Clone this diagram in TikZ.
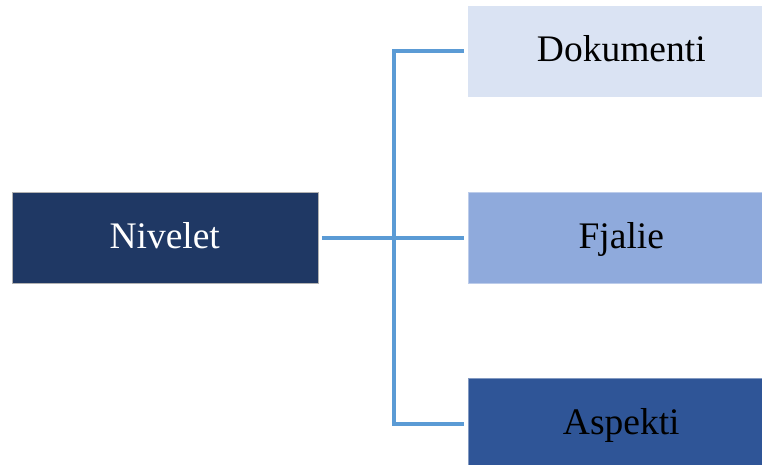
\documentclass[tikz,border=0pt]{standalone}
\usepackage{fontspec}
\setmainfont{Liberation Serif}
\definecolor{navy}{HTML}{1F3864}
\definecolor{paleblue}{HTML}{DAE3F3}
\definecolor{midblue}{HTML}{8FAADC}
\definecolor{deepblue}{HTML}{2F5597}
\definecolor{linkblue}{HTML}{5B9BD5}
\begin{document}
\begin{tikzpicture}[x=1pt,y=1pt,
  levelbox/.style={minimum width=306pt,minimum height=90.6pt,inner sep=0pt,
    text height=21pt,text depth=0pt,
    font=\fontsize{37.5}{40}\selectfont, draw=white!70!black, line width=0.4pt},
  link/.style={linkblue,line width=4pt}]
\useasboundingbox (0,0) rectangle (762,465);
\clip (0,0) rectangle (762,465);
% root and the three levels (right column runs past the page edge)
\node[levelbox,fill=navy,text=white] (root) at (164.7,227) {Nivelet};
\node[levelbox,fill=paleblue,draw=paleblue] (doc) at (621.3,413.6) {Dokumenti};
\node[levelbox,fill=midblue,draw=midblue!60!white] (sent) at (621.3,227) {Fjalie};
\node[levelbox,fill=deepblue,draw=deepblue!60!white] (asp) at (621.3,41.3) {Aspekti};
% bracket connector
\coordinate (hub) at (393.5,227);
\draw[link] ([xshift=4pt]root.east) -- ([xshift=-4pt]sent.west);
\draw[link] ([xshift=-4pt]doc.west) -| (hub |- asp.west) -- ([xshift=-4pt]asp.west);
\end{tikzpicture}
\end{document}
